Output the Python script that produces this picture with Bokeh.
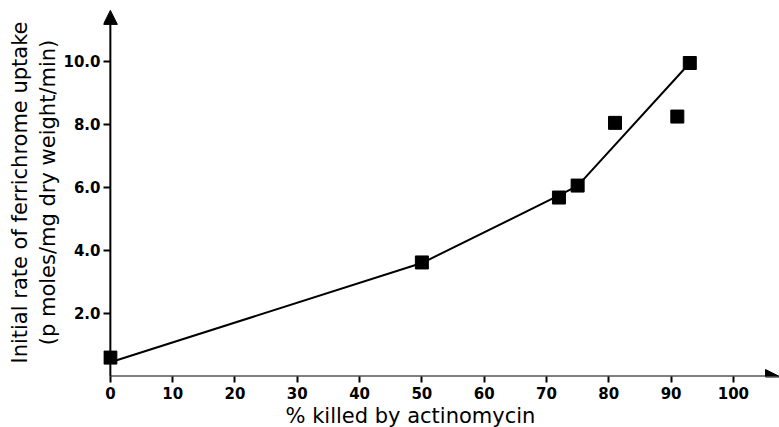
from bokeh.plotting import figure
from bokeh.models import ColumnDataSource, FixedTicker, Arrow, NormalHead, Title, Range1d
from bokeh.embed import file_html
from bokeh.resources import INLINE

# data
killed_pct = [0, 50, 72, 75, 81, 91, 93]
uptake_rate = [0.6, 3.62, 5.68, 6.06, 8.05, 8.25, 9.95]
fit_x = [0, 50, 72, 75, 93]
fit_y = [0.45, 3.6, 5.75, 6.05, 9.95]
x_ticks = [0, 10, 20, 30, 40, 50, 60, 70, 80, 90, 100]
y_ticks = [2, 4, 6, 8, 10]
y_tick_labels = ["2.0", "4.0", "6.0", "8.0", "10.0"]
x_title = "% killed by actinomycin"
y_title = "Initial rate of ferrichrome uptake\n(p moles/mg dry weight/min)"

FONT = "DejaVu Sans"

p = figure(width=779, height=427, output_backend="svg", toolbar_location=None,
           x_range=Range1d(-1.1, 107.4), y_range=Range1d(0, 11.68),
           min_border_left=103, min_border_right=0, min_border_top=8, min_border_bottom=51)
p.outline_line_color = None
p.grid.visible = False
p.background_fill_color = "white"
p.border_fill_color = "white"

# x axis
xa = p.xaxis[0]
xa.ticker = FixedTicker(ticks=x_ticks)
xa.axis_line_color = None
xa.major_tick_out = 6
xa.major_tick_in = 0
xa.major_tick_line_width = 2
xa.minor_tick_line_color = None
xa.major_label_standoff = 4
xa.major_label_text_font = FONT
xa.major_label_text_font_style = "bold"
xa.major_label_text_font_size = "15px"
xa.major_label_text_color = "black"

# y axis
ya = p.yaxis[0]
ya.ticker = FixedTicker(ticks=y_ticks)
ya.major_label_overrides = {t: l for t, l in zip(y_ticks, y_tick_labels)}
ya.axis_line_color = None
ya.major_tick_out = 0
ya.major_tick_in = 7
ya.major_tick_line_width = 2
ya.minor_tick_line_color = None
ya.major_label_standoff = 3
ya.major_label_text_font = FONT
ya.major_label_text_font_style = "bold"
ya.major_label_text_font_size = "15px"
ya.major_label_text_color = "black"
ya.axis_label = y_title
ya.axis_label_text_font = FONT
ya.axis_label_text_font_style = "normal"
ya.axis_label_text_font_size = "21px"
ya.axis_label_text_color = "black"
ya.axis_label_standoff = 0

# x title placed below
t = Title(text=x_title, align="left", offset=182, standoff=0,
          text_font=FONT, text_font_style="normal", text_font_size="21px", text_color="black")
p.add_layout(t, "below")

# axis arrows
p.add_layout(Arrow(x_start=0, y_start=0, x_end=107.4, y_end=0, line_width=2, line_color="black",
                   end=NormalHead(size=14, fill_color="black", line_color="black")))
p.add_layout(Arrow(x_start=0, y_start=-0.1, x_end=0, y_end=11.62, line_width=2, line_color="black",
                   end=NormalHead(size=14, fill_color="black", line_color="black")))

# data
p.line(fit_x, fit_y, line_width=2, line_color="black")
src = ColumnDataSource(dict(x=killed_pct, y=uptake_rate))
p.scatter("x", "y", source=src, marker="square", size=13, fill_color="black", line_color="black")

open("out.html", "w").write(file_html(p, INLINE))
